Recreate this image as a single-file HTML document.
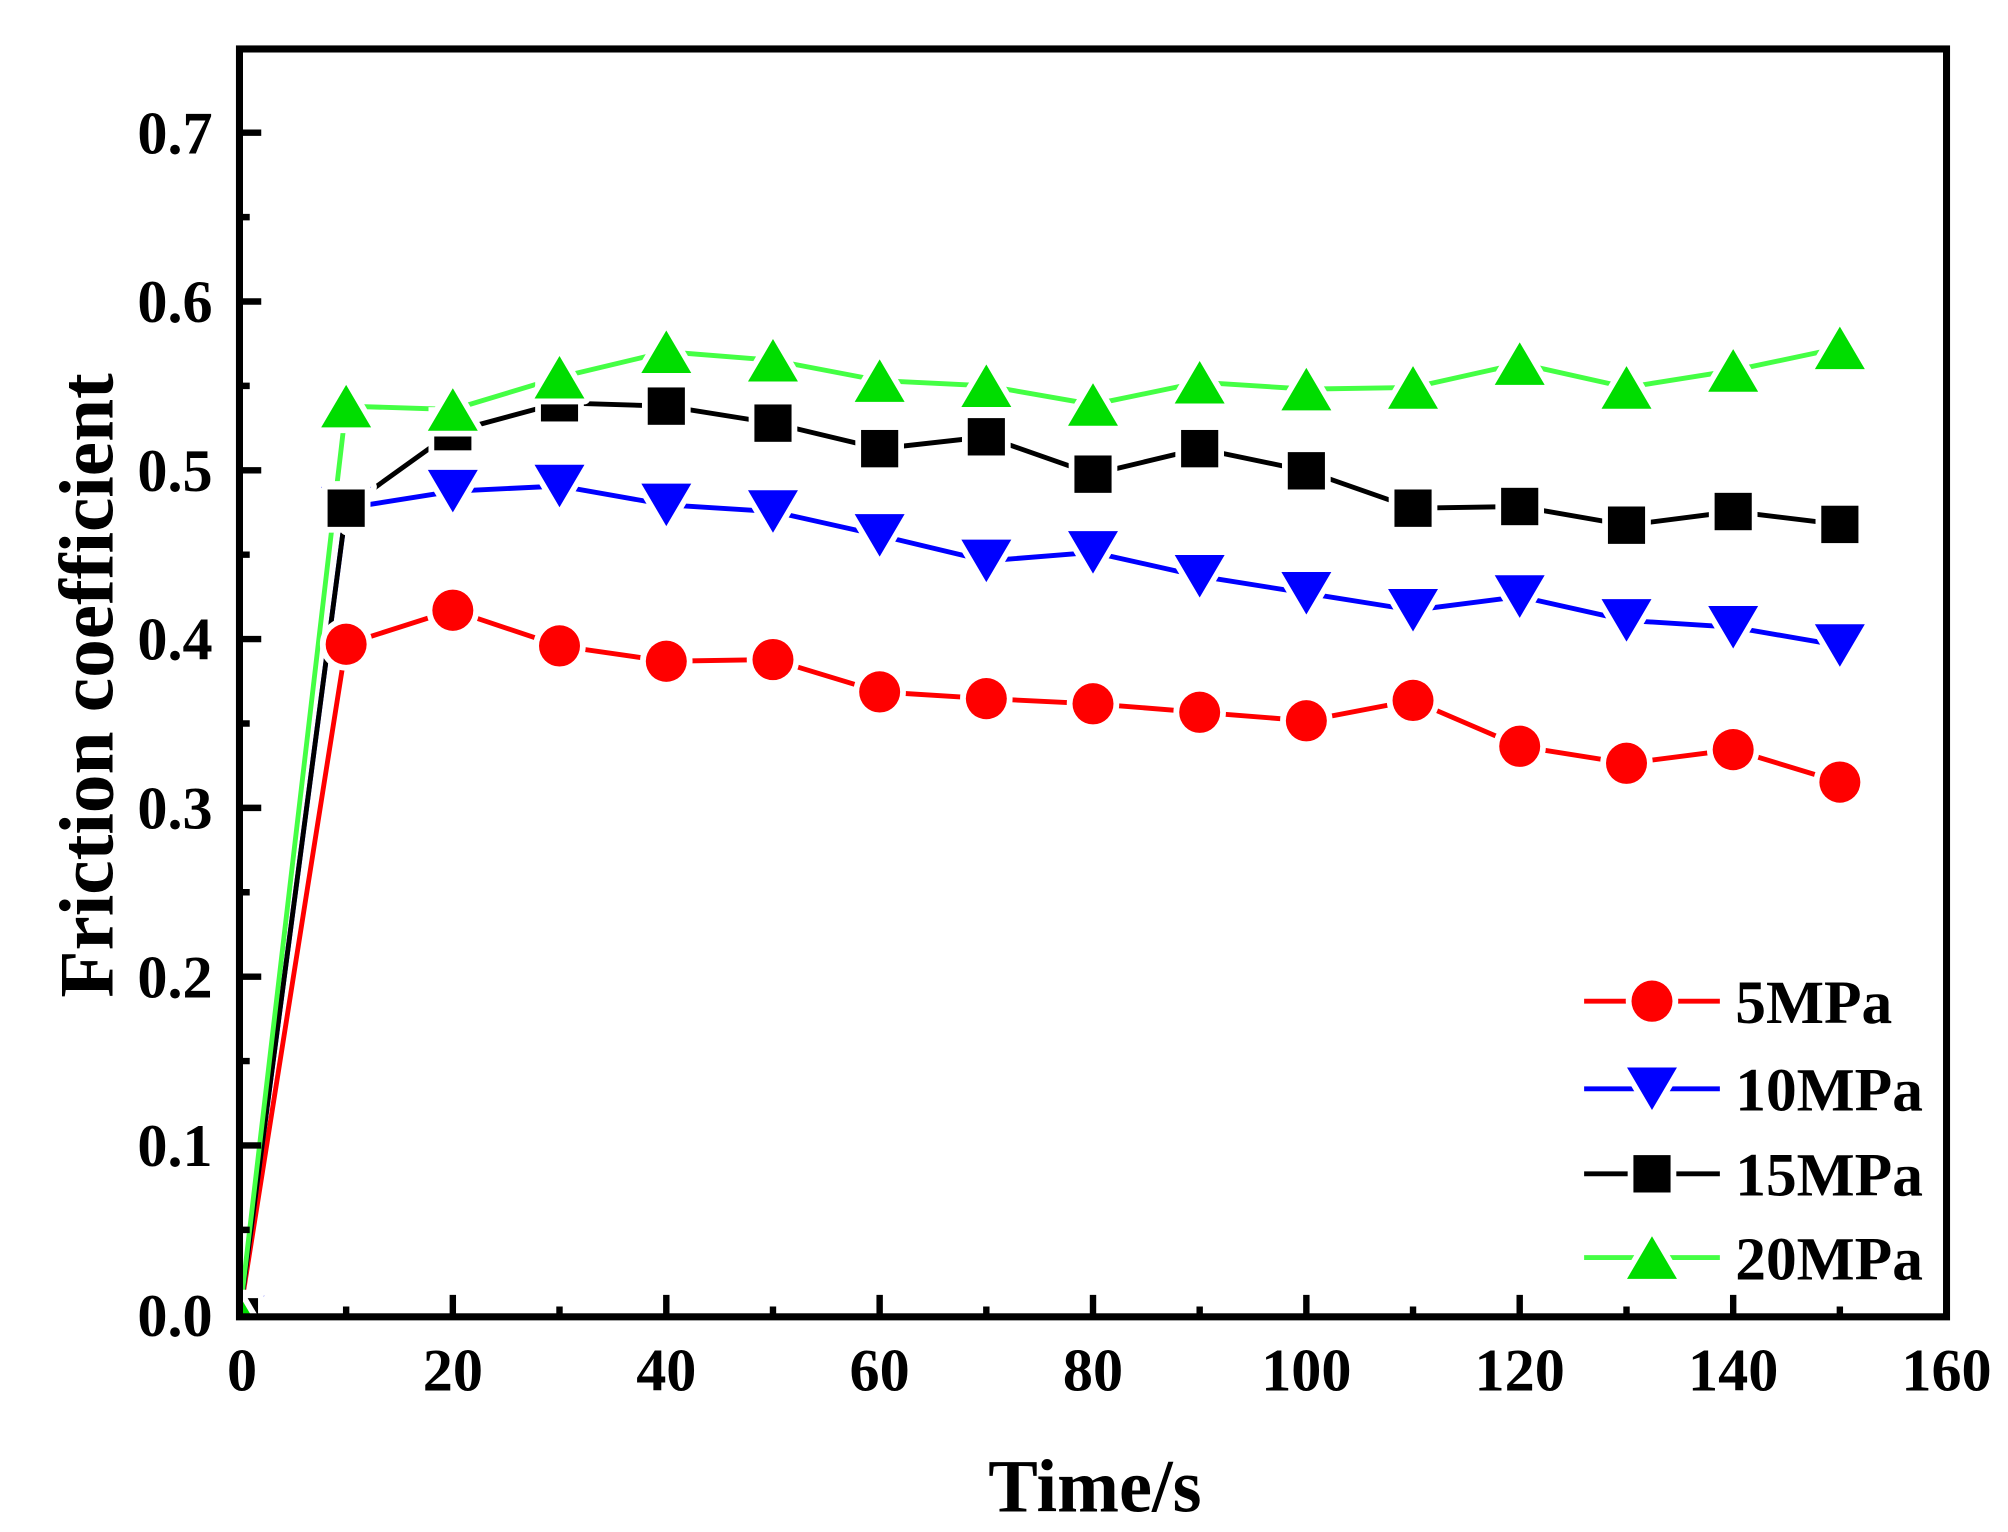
<!DOCTYPE html>
<html><head><meta charset="utf-8"><style>html,body{margin:0;padding:0;background:#fff}svg{display:block}</style></head>
<body>
<svg width="2008" height="1532" viewBox="0 0 1568 1189" preserveAspectRatio="none" xmlns="http://www.w3.org/2000/svg" xmlns:xlink="http://www.w3.org/1999/xlink" font-family="Liberation Serif, serif" font-weight="bold">
<defs>
<clipPath id="c"><rect x="187" y="38" width="1333" height="984"/></clipPath>
<circle id="mc" r="16" fill="#ff0000" stroke="#fff" stroke-width="9" paint-order="stroke"/>
<polygon id="md" points="-19.5,-16.5 19.5,-16.5 0,16.5" fill="#0000ff" stroke="#fff" stroke-width="9" paint-order="stroke" stroke-linejoin="round"/>
<rect id="ms" x="-14.5" y="-14.5" width="29" height="29" fill="#000" stroke="#fff" stroke-width="9" paint-order="stroke"/>
<polygon id="mu" points="-19.5,16.5 19.5,16.5 0,-16.5" fill="#00dd00" stroke="#fff" stroke-width="9" paint-order="stroke" stroke-linejoin="round"/>
</defs>
<g clip-path="url(#c)">
<polyline fill="none" stroke="#ff0000" stroke-width="3.8" points="187,1022 270.3,500 353.6,473.6 436.9,501.3 520.3,513.2 603.6,511.9 686.9,537 770.2,542.2 853.5,546.2 936.8,552.8 1020.1,559.4 1103.4,543.6 1186.7,579.2 1270.1,592.4 1353.4,581.8 1436.7,607"/>
<polyline fill="none" stroke="#0000ff" stroke-width="3.8" points="187,1022 270.3,394.4 353.6,381.2 436.9,377.2 520.3,391.8 603.6,397 686.9,415.5 770.2,435.3 853.5,428.7 936.8,447.2 1020.1,460.4 1103.4,473.6 1186.7,463 1270.1,481.5 1353.4,486.8 1436.7,501"/>
<polyline fill="none" stroke="#000" stroke-width="3.8" points="187,1022 270.3,394.4 353.6,335 436.9,312.6 520.3,315.2 603.6,328.4 686.9,348.2 770.2,339 853.5,368 936.8,348.2 1020.1,365.4 1103.4,394.4 1186.7,393.1 1270.1,407.6 1353.4,397 1436.7,407"/>
<polyline fill="none" stroke="#44ff44" stroke-width="3.8" points="187,1022 270.3,315.2 353.6,317.8 436.9,292.8 520.3,273 603.6,279.6 686.9,295.4 770.2,299.4 853.5,313.9 936.8,296.7 1020.1,302 1103.4,300.7 1186.7,282.2 1270.1,300.7 1353.4,287.5 1436.7,270"/>
<use xlink:href="#mc" x="187" y="1022"/><use xlink:href="#mc" x="270.3" y="500"/><use xlink:href="#mc" x="353.6" y="473.6"/><use xlink:href="#mc" x="436.9" y="501.3"/><use xlink:href="#mc" x="520.3" y="513.2"/><use xlink:href="#mc" x="603.6" y="511.9"/><use xlink:href="#mc" x="686.9" y="537"/><use xlink:href="#mc" x="770.2" y="542.2"/><use xlink:href="#mc" x="853.5" y="546.2"/><use xlink:href="#mc" x="936.8" y="552.8"/><use xlink:href="#mc" x="1020.1" y="559.4"/><use xlink:href="#mc" x="1103.4" y="543.6"/><use xlink:href="#mc" x="1186.7" y="579.2"/><use xlink:href="#mc" x="1270.1" y="592.4"/><use xlink:href="#mc" x="1353.4" y="581.8"/><use xlink:href="#mc" x="1436.7" y="607"/>
<use xlink:href="#md" x="187" y="1022"/><use xlink:href="#md" x="270.3" y="394.4"/><use xlink:href="#md" x="353.6" y="381.2"/><use xlink:href="#md" x="436.9" y="377.2"/><use xlink:href="#md" x="520.3" y="391.8"/><use xlink:href="#md" x="603.6" y="397"/><use xlink:href="#md" x="686.9" y="415.5"/><use xlink:href="#md" x="770.2" y="435.3"/><use xlink:href="#md" x="853.5" y="428.7"/><use xlink:href="#md" x="936.8" y="447.2"/><use xlink:href="#md" x="1020.1" y="460.4"/><use xlink:href="#md" x="1103.4" y="473.6"/><use xlink:href="#md" x="1186.7" y="463"/><use xlink:href="#md" x="1270.1" y="481.5"/><use xlink:href="#md" x="1353.4" y="486.8"/><use xlink:href="#md" x="1436.7" y="501"/>
<use xlink:href="#ms" x="187" y="1022"/><use xlink:href="#ms" x="270.3" y="394.4"/><use xlink:href="#ms" x="353.6" y="335"/><use xlink:href="#ms" x="436.9" y="312.6"/><use xlink:href="#ms" x="520.3" y="315.2"/><use xlink:href="#ms" x="603.6" y="328.4"/><use xlink:href="#ms" x="686.9" y="348.2"/><use xlink:href="#ms" x="770.2" y="339"/><use xlink:href="#ms" x="853.5" y="368"/><use xlink:href="#ms" x="936.8" y="348.2"/><use xlink:href="#ms" x="1020.1" y="365.4"/><use xlink:href="#ms" x="1103.4" y="394.4"/><use xlink:href="#ms" x="1186.7" y="393.1"/><use xlink:href="#ms" x="1270.1" y="407.6"/><use xlink:href="#ms" x="1353.4" y="397"/><use xlink:href="#ms" x="1436.7" y="407"/>
<use xlink:href="#mu" x="187" y="1022"/><use xlink:href="#mu" x="270.3" y="315.2"/><use xlink:href="#mu" x="353.6" y="317.8"/><use xlink:href="#mu" x="436.9" y="292.8"/><use xlink:href="#mu" x="520.3" y="273"/><use xlink:href="#mu" x="603.6" y="279.6"/><use xlink:href="#mu" x="686.9" y="295.4"/><use xlink:href="#mu" x="770.2" y="299.4"/><use xlink:href="#mu" x="853.5" y="313.9"/><use xlink:href="#mu" x="936.8" y="296.7"/><use xlink:href="#mu" x="1020.1" y="302"/><use xlink:href="#mu" x="1103.4" y="300.7"/><use xlink:href="#mu" x="1186.7" y="282.2"/><use xlink:href="#mu" x="1270.1" y="300.7"/><use xlink:href="#mu" x="1353.4" y="287.5"/><use xlink:href="#mu" x="1436.7" y="270"/>
</g>
<rect x="187" y="38" width="1333" height="984" fill="none" stroke="#000" stroke-width="5.5"/>
<path stroke="#000" stroke-width="5" fill="none" d="
M270.3 1022v-8 M353.6 1022v-17 M436.9 1022v-8 M520.3 1022v-17 M603.6 1022v-8 M686.9 1022v-17 M770.2 1022v-8 M853.5 1022v-17
M936.8 1022v-8 M1020.1 1022v-17 M1103.4 1022v-8 M1186.7 1022v-17 M1270.1 1022v-8 M1353.4 1022v-17 M1436.7 1022v-8
M187 954.5h8 M187 889h17 M187 823.5h8 M187 758h17 M187 692.5h8 M187 627h17 M187 561.5h8 M187 496h17
M187 430.5h8 M187 365h17 M187 299.5h8 M187 234h17 M187 168.5h8 M187 103h17"/>
<g font-size="47" fill="#000" text-anchor="middle">
<text x="189" y="1079">0</text><text x="353.6" y="1079">20</text><text x="520.3" y="1079">40</text><text x="686.9" y="1079">60</text><text x="853.5" y="1079">80</text><text x="1020.1" y="1079">100</text><text x="1186.7" y="1079">120</text><text x="1353.4" y="1079">140</text><text x="1520" y="1079">160</text>
</g>
<g font-size="47" fill="#000" text-anchor="end">
<text x="166" y="1037">0.0</text><text x="166" y="905">0.1</text><text x="166" y="774">0.2</text><text x="166" y="643">0.3</text><text x="166" y="512">0.4</text><text x="166" y="381">0.5</text><text x="166" y="250">0.6</text><text x="166" y="119">0.7</text>
</g>
<text x="855" y="1173" font-size="58" text-anchor="middle">Time/s</text>
<text transform="translate(88,532) rotate(-90)" font-size="60" text-anchor="middle">Friction coefficient</text>
<g font-size="48">
<line x1="1237" y1="777" x2="1343" y2="777" stroke="#ff0000" stroke-width="3.8"/><use xlink:href="#mc" x="1290" y="777"/><text x="1355" y="794">5MPa</text>
<line x1="1237" y1="845" x2="1343" y2="845" stroke="#0000ff" stroke-width="3.8"/><use xlink:href="#md" x="1290" y="845"/><text x="1355" y="862">10MPa</text>
<line x1="1237" y1="911" x2="1343" y2="911" stroke="#000" stroke-width="3.8"/><use xlink:href="#ms" x="1290" y="911"/><text x="1355" y="928">15MPa</text>
<line x1="1237" y1="976" x2="1343" y2="976" stroke="#44ff44" stroke-width="3.8"/><use xlink:href="#mu" x="1290" y="976"/><text x="1355" y="993">20MPa</text>
</g>
</svg>
</body></html>
